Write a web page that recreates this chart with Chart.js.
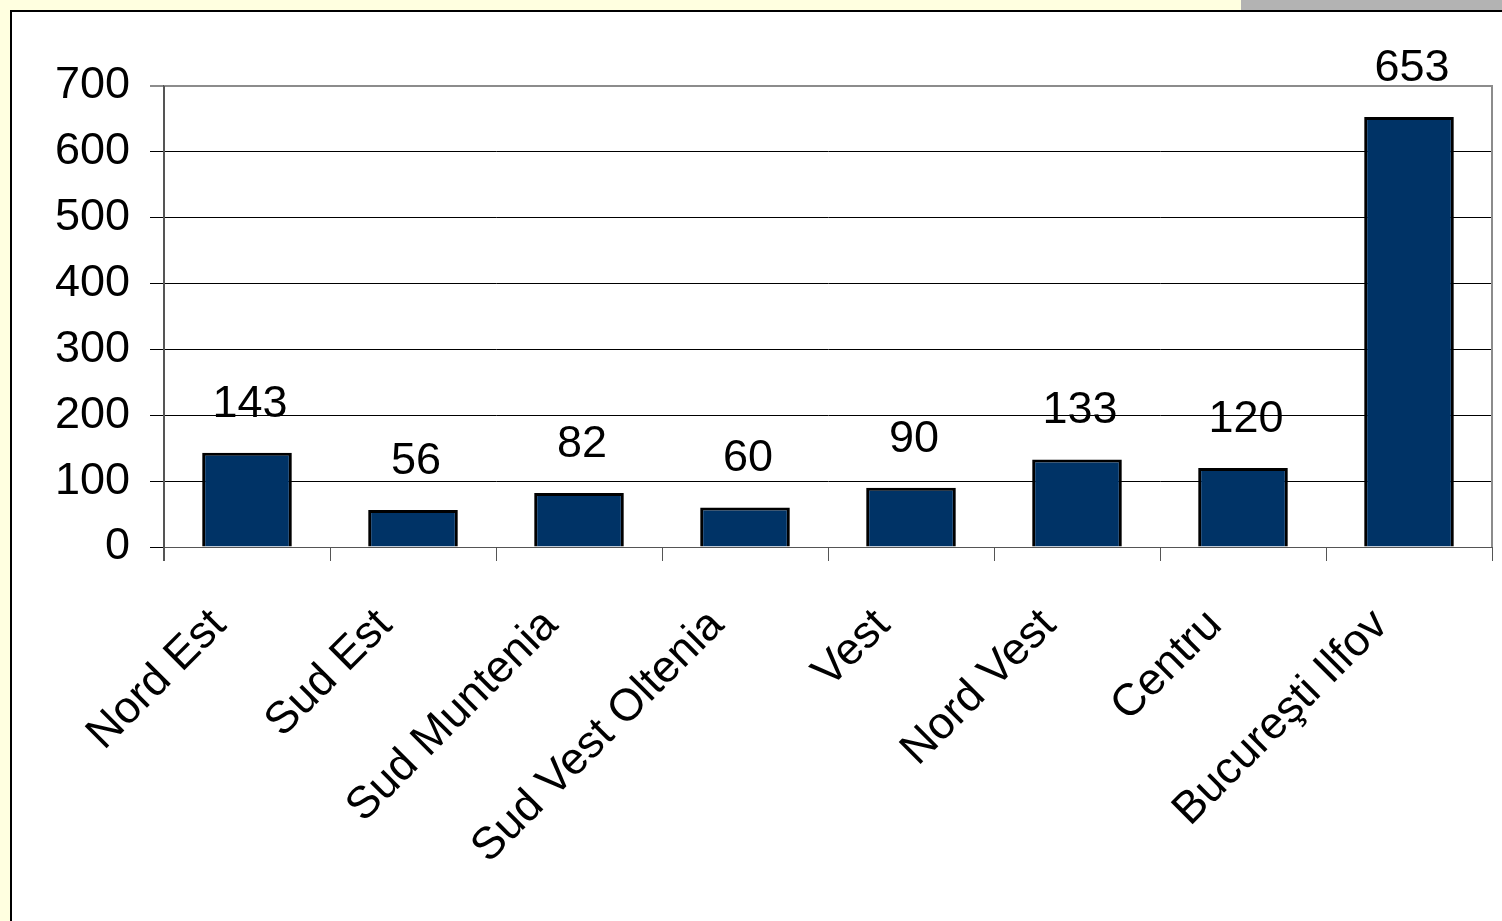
<!DOCTYPE html>
<html>
<head>
<meta charset="utf-8">
<script src="https://cdn.jsdelivr.net/npm/chart.js@4.4.0/dist/chart.umd.min.js"></script>
<style>
  html, body { margin: 0; padding: 0; background: #FFFFE0; }
  #wrap { position: relative; width: 1502px; height: 921px; overflow: hidden; }
  #grey { position: absolute; left: 1241px; top: 0; width: 261px; height: 10px; background: #B3B3B3; }
  #panel { position: absolute; left: 10px; top: 10px; width: 1492px; height: 911px; background: #fff;
           border-left: 2px solid #000; border-top: 2px solid #000; box-sizing: border-box; }
  #c { position: absolute; left: 0; top: 0; }
</style>
</head>
<body>
<div id="wrap">
  <div id="grey"></div>
  <div id="panel"></div>
  <canvas id="c" width="1502" height="921"></canvas>
</div>
<script>
const categories = ["Nord Est", "Sud Est", "Sud Muntenia", "Sud Vest Oltenia", "Vest", "Nord Vest", "Centru", "Bucureşti Ilfov"];
const values = [143, 56, 82, 60, 90, 133, 120, 653];
const yTicks = [0, 100, 200, 300, 400, 500, 600, 700];

const FONT = '"Liberation Sans", Arial, sans-serif';

const frame = {
  id: 'frame',
  afterDatasetsDraw(chart) {
    const { ctx, chartArea: a } = chart;
    ctx.save();
    ctx.strokeStyle = '#8c8c8c';
    ctx.lineWidth = 2;
    ctx.beginPath();
    ctx.moveTo(a.left, a.top);
    ctx.lineTo(a.right, a.top);
    ctx.lineTo(a.right, a.bottom);
    ctx.stroke();
    ctx.strokeStyle = '#555';
    ctx.beginPath();
    ctx.moveTo(a.left, a.top);
    ctx.lineTo(a.left, a.bottom + 14);
    ctx.stroke();
    const meta = chart.getDatasetMeta(0);
    ctx.fillStyle = '#000';
    ctx.font = '45px ' + FONT;
    ctx.textAlign = 'center';
    ctx.textBaseline = 'alphabetic';
    meta.data.forEach((bar, i) => {
      ctx.fillText(String(values[i]), bar.x + 3, bar.y - 36);
    });
    ctx.restore();
  }
};

new Chart(document.getElementById('c'), {
  type: 'bar',
  data: {
    labels: categories,
    datasets: [{
      data: values,
      backgroundColor: '#003366',
      borderColor: '#000',
      borderWidth: 3,
      borderSkipped: 'bottom',
      barPercentage: 0.54,
      categoryPercentage: 1.0
    }]
  },
  options: {
    responsive: false,
    animation: false,
    devicePixelRatio: 1,
    layout: { padding: { left: 0, top: 86, right: 10, bottom: 0 } },
    plugins: { legend: { display: false }, tooltip: { enabled: false } },
    scales: {
      x: {
        afterFit(s) { s.height = 921 - 547; },
        grid: { display: true, offset: true, drawOnChartArea: false, tickLength: 14, color: '#555', lineWidth: 1 },
        border: { display: true, color: '#555', width: 1 },
        ticks: {
          color: '#000', font: { family: FONT, size: 45 },
          minRotation: 45, maxRotation: 45, padding: 38, labelOffset: -28, autoSkip: false
        }
      },
      y: {
        min: 0, max: 700,
        afterFit(s) { s.width = 164; },
        afterBuildTicks(s) { s.ticks = yTicks.map(v => ({ value: v })); },
        grid: {
          color: (c) => c.tick && c.tick.value === 700 ? '#8c8c8c' : '#000',
          lineWidth: (c) => c.tick && c.tick.value === 700 ? 2 : 1,
          tickLength: 14
        },
        border: { display: true, color: '#555', width: 2 },
        ticks: { color: '#000', font: { family: FONT, size: 45 }, padding: 20 }
      }
    }
  },
  plugins: [frame]
});
</script>
</body>
</html>
